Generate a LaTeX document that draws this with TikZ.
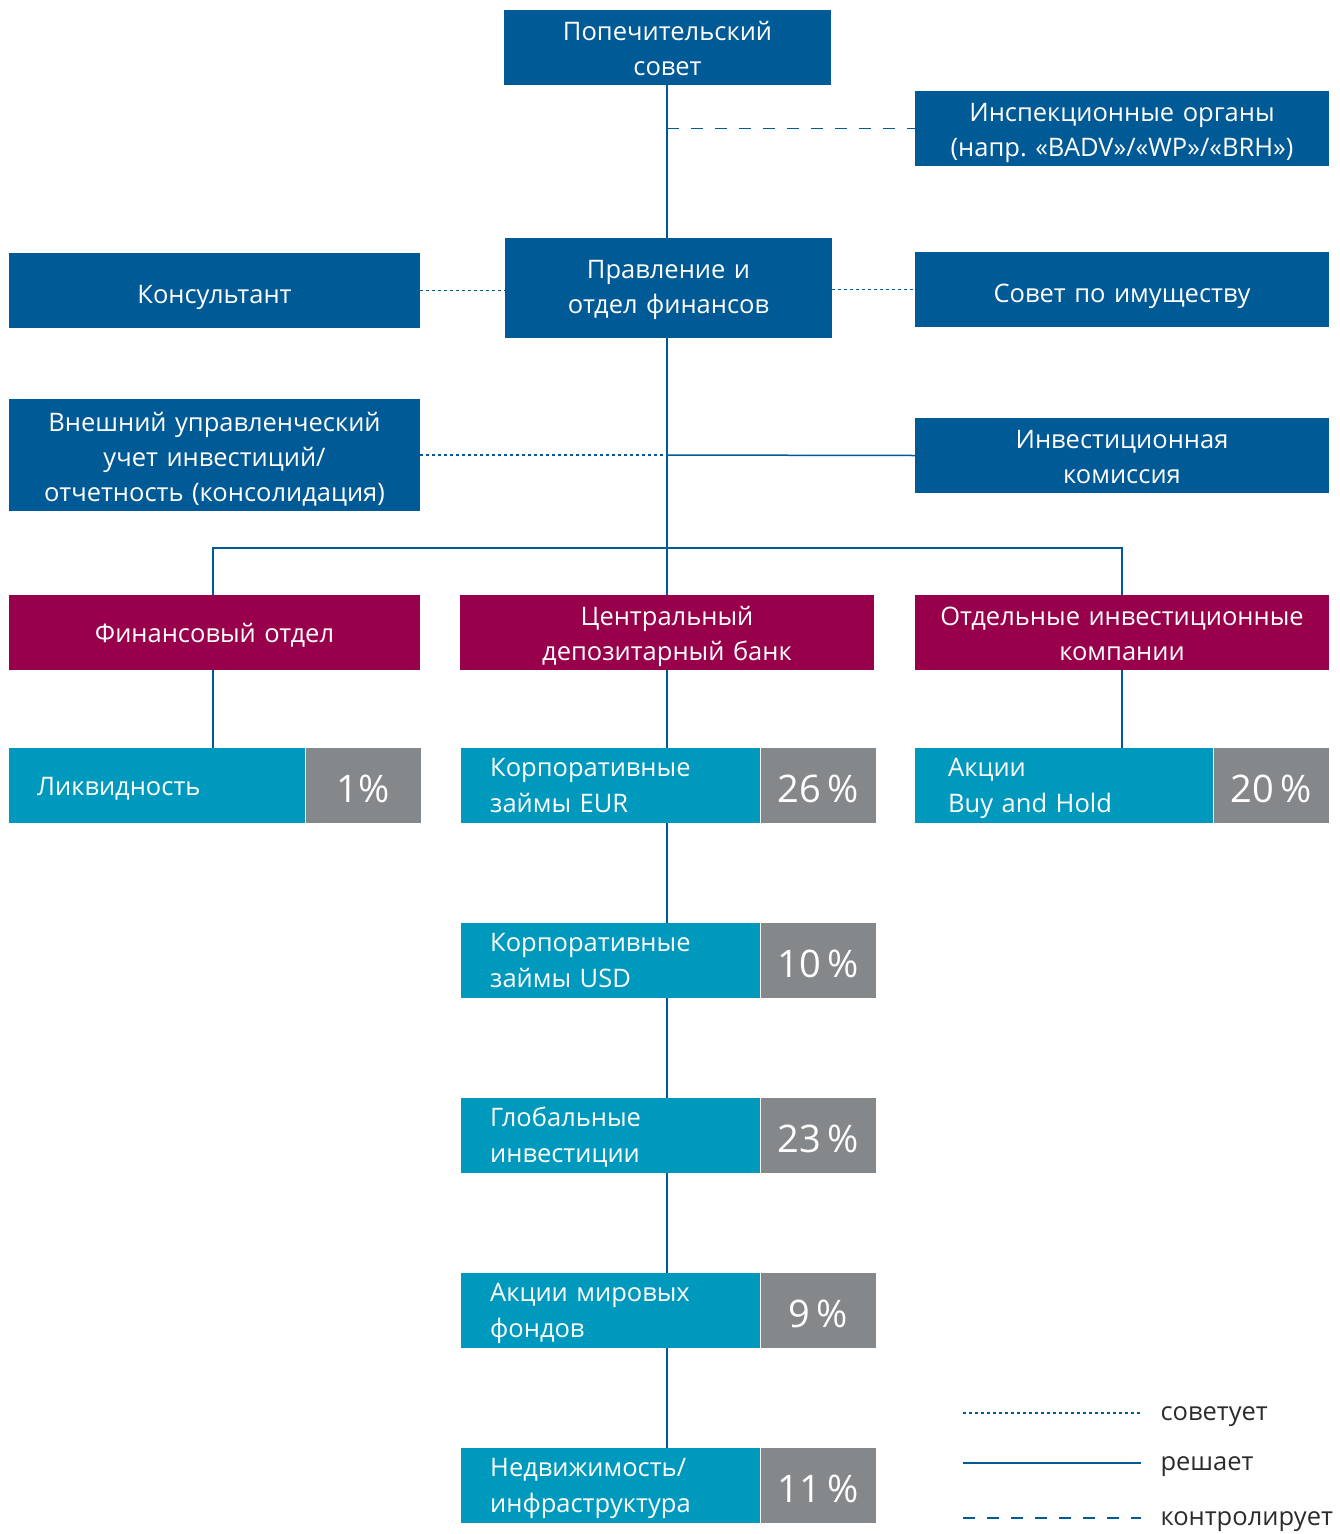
\documentclass[tikz,border=0pt]{standalone}
\usepackage{fontspec}
\setmainfont{Open Sans}
\definecolor{navy}{HTML}{005A96}
\definecolor{berry}{HTML}{98004C}
\definecolor{cyanbox}{HTML}{0099BE}
\definecolor{greybox}{HTML}{85888A}
\definecolor{legendtext}{HTML}{2B2B2B}

\begin{document}
\begin{tikzpicture}[x=1pt, y=-1pt,
  box/.style={rectangle, fill=navy, text=white, align=center, minimum width=#1, text width=#1,
    minimum height=75pt, inner sep=0pt, text height=20pt, text depth=35pt,
    font=\fontsize{25.5}{35}\selectfont},
  box/.default=411pt,
  oneline/.style={text height=25pt, text depth=0pt},
  unit/.style={box=414pt, fill=berry},
  asset/.style={rectangle, fill=cyanbox, text=white, align=left, anchor=west,
    text width=#1, minimum height=75pt, inner xsep=29pt, inner ysep=0pt,
    text height=18pt, text depth=36pt, font=\fontsize{25.5}{36}\selectfont},
  asset/.default=241pt,
  share/.style={rectangle, fill=greybox, text=white, anchor=west, align=center, minimum width=115pt,
    text width=115pt, minimum height=75pt, inner sep=0pt, text height=33pt, text depth=0pt,
    font=\fontsize{38}{38}\selectfont},
  decide/.style={draw=navy, line width=1.5pt},
  advise/.style={decide, dash pattern=on 3pt off 3pt},
  control/.style={decide, dash pattern=on 12pt off 12pt},
  legend/.style={anchor=west, text=legendtext, yshift=-4pt, font=\fontsize{25.5}{30}\selectfont}]

  \useasboundingbox (0,0) rectangle (1339,1534);

  \node[box=327pt] (board) at (667.5,47.5) {Попечительский\\совет};
  \node[box=414pt] (insp) at (1122,128.5) {Инспекционные органы\\(напр.\ «BADV»/«WP»/«BRH»)};
  \node[box, oneline] (cons) at (214.5,290.5) {Консультант};
  \node[box=327pt, minimum height=100pt, text depth=40pt] (mgmt) at (668.5,288) {Правление и\\отдел финансов};
  \node[box=414pt, oneline] (estate) at (1122,289.5) {Совет по имуществу};
  \node[box, minimum height=112pt, text depth=68pt] (ext) at (214.5,455) {Внешний управленческий\\учет инвестиций/\\отчетность (консолидация)};
  \node[box=414pt] (invc) at (1122,455.5) {Инвестиционная\\комиссия};

  \node[unit, minimum width=411pt, text width=411pt, oneline, text height=19pt] (fin) at (214.5,632.5) {Финансовый отдел};
  \node[unit] (central) at (667,632.5) {Центральный\\депозитарный банк};
  \node[unit] (sep) at (1122,632.5) {Отдельные инвестиционные\\компании};
  \coordinate (bus) at (667,548);

  \node[asset=240pt, inner xsep=28pt, text height=19pt, text depth=0pt] (liq) at (9,785.5) {Ликвидность};
  \node[share] (liqp) at (liq.east) {1\%};
  \node[asset] (eur) at (461,785.5) {Корпоративные\\займы EUR};
  \node[share] (eurp) at (eur.east) {26\,\%};
  \node[asset] (usd) at (461,960.5) {Корпоративные\\займы USD};
  \node[share] (usdp) at (usd.east) {10\,\%};
  \node[asset] (glob) at (461,1135.5) {Глобальные\\инвестиции};
  \node[share] (globp) at (glob.east) {23\,\%};
  \node[asset] (shares) at (461,1310.5) {Акции мировых\\фондов};
  \node[share] (sharesp) at (shares.east) {9\,\%};
  \node[asset] (realty) at (461,1485.5) {Недвижимость/\\инфраструктура};
  \node[share] (realtyp) at (realty.east) {11\,\%};
  \node[asset=232pt, inner xsep=33pt] (bh) at (915,785.5) {Акции\\Buy and Hold};
  \node[share] (bhp) at (bh.east) {20\,\%};

  \draw[decide] (central.north |- board.south) -- (central.north |- mgmt.north);
  \draw[control] (central.north |- insp.west) -- (insp.west);
  \draw[advise] (cons.east) -- (cons.east -| mgmt.west);
  \draw[advise] (mgmt.east |- estate.west) -- (estate.west);
  \draw[decide] (central.north |- mgmt.south) -- (central.north);
  \draw[advise] (ext.east) -- (ext.east -| central.north);
  \draw[decide] (ext.east -| central.north) -- (invc.west);
  \draw[decide] (fin.north -| 213,0) |- (bus) -| (sep.north);
  \draw[decide] (fin.south -| 213,0) -- (liq.north -| 213,0);
  \draw[decide] (central.south) -- (central.south |- eur.north);
  \foreach \a/\b in {eur/usd, usd/glob, glob/shares, shares/realty}
    \draw[decide] (central.south |- \a.south) -- (central.south |- \b.north);
  \draw[decide] (sep.south) -- (sep.south |- bh.north);

  \coordinate (adv1) at (963,1413);
  \coordinate (adv2) at (1141,1413);
  \coordinate (dec1) at (963,1463);
  \coordinate (dec2) at (1141,1463);
  \coordinate (ctl1) at (963,1518);
  \coordinate (ctl2) at (1141,1518);
  \draw[advise, line width=2.5pt] (adv1) -- (adv2);
  \draw[decide] (dec1) -- (dec2);
  \draw[control] (ctl1) -- (ctl2);
  \node[legend] (advtxt) at (1157,1413) {советует};
  \node[legend] (dectxt) at (1157,1463) {решает};
  \node[legend] (ctltxt) at (1157,1518) {контролирует};

\end{tikzpicture}
\end{document}
